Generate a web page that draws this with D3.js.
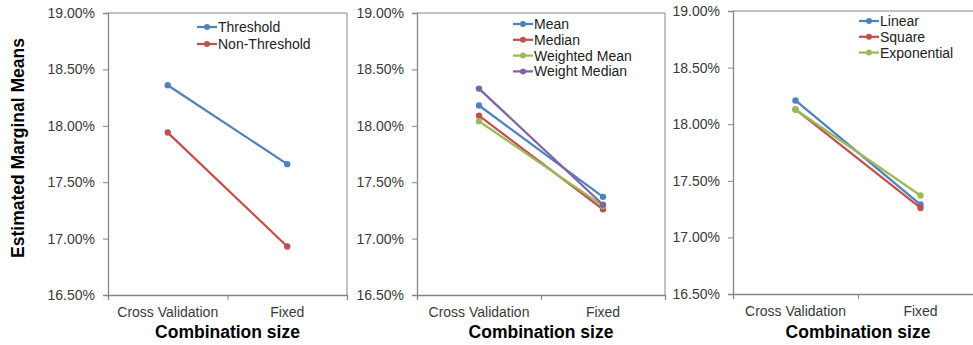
<!DOCTYPE html>
<html>
<head>
<meta charset="utf-8">
<script src="https://cdn.jsdelivr.net/npm/d3@7"></script>
<style>
  html, body { margin: 0; padding: 0; background: #fff; }
  svg { display: block; font-family: "Liberation Sans", Arial, sans-serif; }
</style>
</head>
<body>
<div id="chart"></div>
<script>
const categories = ["Cross Validation", "Fixed"]
const yTicks = [16.5, 17.0, 17.5, 18.0, 18.5, 19.0]

const panel1Names = ["Threshold", "Non-Threshold"]
const panel1Values = [[18.36, 17.66], [17.94, 16.93]]

const panel2Names = ["Mean", "Median", "Weighted Mean", "Weight Median"]
const panel2Values = [[18.18, 17.37], [18.09, 17.26], [18.04, 17.29], [18.33, 17.30]]

const panel3Names = ["Linear", "Square", "Exponential"]
const panel3Values = [[18.21, 17.29], [18.13, 17.26], [18.13, 17.37]]

const palette = ["#4F81BD", "#C0504D", "#9BBB59", "#8064A2"]
const axisColor = "#868686"
const textColor = "#3a3a3a"

const svg = d3.select("#chart")
    .append("svg")
    .attr("width", 973)
    .attr("height", 345)

/* Y AXIS TITLE */
svg.append("text")
    .attr("transform", "translate(24, 148) rotate(-90)")
    .attr("text-anchor", "middle")
    .style("font-size", "17.5px")
    .style("font-weight", "bold")
    .style("fill", "#000")
    .text("Estimated Marginal Means")

function addPanel(box, names, values, legend) {
    const x = d3.scaleBand()
        .domain(categories)
        .range([box.left, box.right])
    const edges = d3.scaleLinear()
        .domain([0, categories.length])
        .range([box.left, box.right])
    const y = d3.scaleLinear()
        .domain([16.5, 19.0])
        .range([box.bottom, box.top])

    const g = svg.append("g")

    // frame (top + right)
    g.append("path")
        .attr("d", `M${box.left},${box.top}H${box.right}V${box.bottom}`)
        .attr("fill", "none")
        .attr("stroke", axisColor)
        .attr("stroke-width", 1)

    // y axis
    const yAxis = g.append("g")
        .attr("transform", `translate(${box.left}, 0)`)
        .call(d3.axisLeft(y)
            .tickValues(yTicks)
            .tickSize(5)
            .tickPadding(8)
            .tickFormat(d => d.toFixed(2) + "%"))
    yAxis.select(".domain").attr("stroke", axisColor).attr("stroke-width", 1.3)
    yAxis.selectAll(".tick line").attr("stroke", axisColor)
    yAxis.selectAll(".tick text")
        .style("font-size", "14px")
        .style("fill", textColor)
        .style("font-family", "'Liberation Sans', Arial, sans-serif")

    // x axis ticks at category edges
    const xEdge = g.append("g")
        .attr("transform", `translate(0, ${box.bottom})`)
        .call(d3.axisBottom(edges)
            .tickValues(d3.range(categories.length + 1))
            .tickSize(5)
            .tickFormat(""))
    xEdge.select(".domain").attr("stroke", axisColor).attr("stroke-width", 1.3)
    xEdge.selectAll(".tick line").attr("stroke", axisColor)

    // x labels
    const xAxis = g.append("g")
        .attr("transform", `translate(0, ${box.bottom})`)
        .call(d3.axisBottom(x).tickSize(0).tickPadding(12))
    xAxis.select(".domain").remove()
    xAxis.selectAll(".tick text")
        .style("font-size", "14px")
        .style("fill", textColor)
        .style("font-family", "'Liberation Sans', Arial, sans-serif")

    // x title
    g.append("text")
        .attr("x", (box.left + box.right) / 2)
        .attr("y", 338)
        .attr("text-anchor", "middle")
        .style("font-size", "17.5px")
        .style("font-weight", "bold")
        .style("fill", "#000")
        .text("Combination size")

    // lines
    const line = d3.line()
        .x((d, i) => x(categories[i]) + x.bandwidth() / 2)
        .y(d => y(d))

    values.forEach((vals, si) => {
        g.append("path")
            .datum(vals)
            .attr("fill", "none")
            .attr("stroke", palette[si])
            .attr("stroke-width", 2.25)
            .attr("d", line)
        g.selectAll(null)
            .data(vals)
            .join("circle")
            .attr("cx", (d, i) => x(categories[i]) + x.bandwidth() / 2)
            .attr("cy", d => y(d))
            .attr("r", 3.2)
            .attr("fill", palette[si])
    })

    // legend
    const lg = g.append("g")
        .attr("transform", `translate(${legend.x}, ${legend.y})`)
    names.forEach((name, i) => {
        const row = lg.append("g").attr("transform", `translate(0, ${i * legend.step})`)
        row.append("line")
            .attr("x1", 0).attr("x2", 20)
            .attr("y1", 0).attr("y2", 0)
            .attr("stroke", palette[i])
            .attr("stroke-width", 2.25)
        row.append("circle")
            .attr("cx", 10).attr("cy", 0).attr("r", 3)
            .attr("fill", palette[i])
        row.append("text")
            .attr("x", 21)
            .attr("y", 5)
            .style("font-size", "14px")
            .style("fill", "#222")
            .text(name)
    })
}

addPanel({ left: 108, right: 347, top: 13, bottom: 295 },
    panel1Names, panel1Values, { x: 197, y: 27, step: 17 })
addPanel({ left: 417, right: 665, top: 13, bottom: 295 },
    panel2Names, panel2Values, { x: 513, y: 24, step: 15.8 })
addPanel({ left: 733, right: 983, top: 11, bottom: 294 },
    panel3Names, panel3Values, { x: 859, y: 21, step: 15.8 })
</script>
</body>
</html>
